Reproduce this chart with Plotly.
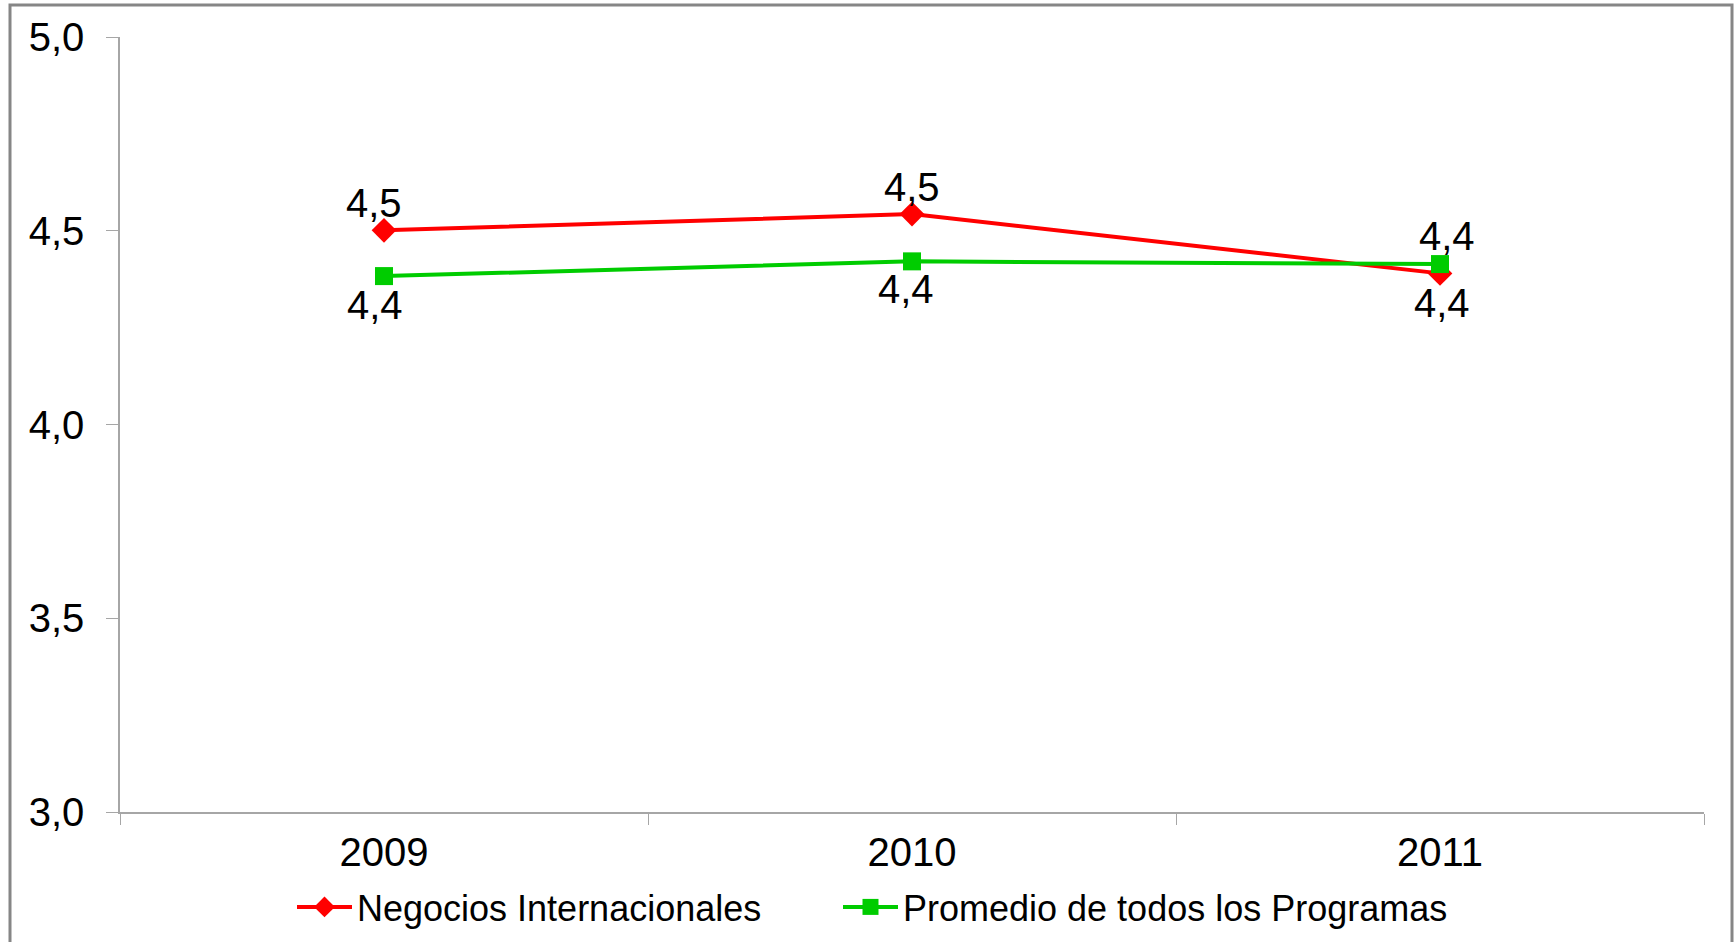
import plotly.graph_objects as go

years = ["2009", "2010", "2011"]
negocios = [4.501, 4.543, 4.390]
promedio = [4.383, 4.421, 4.414]
neg_labels = ["4,5", "4,5", "4,4"]
prom_labels = ["4,4", "4,4", "4,4"]
y_ticks = [3.0, 3.5, 4.0, 4.5, 5.0]
y_ticktext = ["3,0", "3,5", "4,0", "4,5", "5,0"]

# label nudges (pixels) relative to each point: (xshift, yshift)
neg_shift = [(-10, 27), (0, 27), (2, -30)]
prom_shift = [(-9, -29), (-6, -28), (7, 28)]

FONT = "Liberation Sans, Arial, sans-serif"
RED = "#FF0000"
GREEN = "#00CC00"

fig = go.Figure()
fig.add_trace(go.Scatter(
    x=years, y=negocios, name="Negocios Internacionales",
    mode="lines+markers", legend="legend",
    line=dict(color=RED, width=4),
    marker=dict(symbol="diamond", size=19, color=RED),
))
fig.add_trace(go.Scatter(
    x=years, y=promedio, name="Promedio de todos los Programas",
    mode="lines+markers", legend="legend2",
    line=dict(color=GREEN, width=4),
    marker=dict(symbol="square", size=18, color=GREEN),
))

annotations = []
for ys, labels, shifts in ((negocios, neg_labels, neg_shift),
                           (promedio, prom_labels, prom_shift)):
    for i, (yv, t, (dx, dy)) in enumerate(zip(ys, labels, shifts)):
        annotations.append(dict(
            x=i, y=yv, xref="x", yref="y", text=t, showarrow=False,
            xshift=dx, yshift=dy, xanchor="center", yanchor="middle",
            font=dict(family=FONT, size=40, color="black"),
        ))

W, H = 1735, 942
L, R, T, B = 120, 31, 37, 130
pw, ph = W - L - R, H - T - B

def px_x(p):
    return (p - L) / pw

def px_y(p):
    return (H - B - p) / ph

legend_common = dict(
    orientation="h", yanchor="middle",
    font=dict(family=FONT, size=36, color="black"),
    itemwidth=55, bgcolor="rgba(0,0,0,0)", borderwidth=0,
    xanchor="left",
)

fig.update_layout(
    width=W, height=H,
    margin=dict(l=L, r=R, t=T, b=B, pad=0, autoexpand=False),
    paper_bgcolor="white", plot_bgcolor="white",
    font=dict(family=FONT, size=40, color="black"),
    showlegend=True,
    legend=dict(x=px_x(292), y=px_y(907), **legend_common),
    legend2=dict(x=px_x(838), y=px_y(907), **legend_common),
    annotations=annotations,
    xaxis=dict(
        type="category", range=[-0.5, 2.5], showgrid=False,
        showline=True, linecolor="#A6A6A6", linewidth=1.5,
        ticks="outside", tickson="boundaries", ticklen=11, tickcolor="#A6A6A6",
        tickfont=dict(family=FONT, size=40, color="black"),
        ticklabelstandoff=4,
        zeroline=False,
    ),
    yaxis=dict(
        range=[3, 5], tickvals=y_ticks, ticktext=y_ticktext, showgrid=False,
        showline=True, linecolor="#A6A6A6", linewidth=1.5,
        ticks="outside", ticklen=12, tickcolor="#A6A6A6",
        tickfont=dict(family=FONT, size=40, color="black"),
        ticklabelstandoff=14,
        zeroline=False,
    ),
    shapes=[dict(
        type="rect", xref="paper", yref="paper",
        x0=px_x(10), x1=px_x(1732), y0=px_y(960), y1=px_y(5),
        line=dict(color="#868686", width=3), fillcolor="rgba(0,0,0,0)",
        layer="below",
    )],
)

fig.write_html("out.html", config={"displayModeBar": False},
               post_script="document.body.style.margin='0';")
